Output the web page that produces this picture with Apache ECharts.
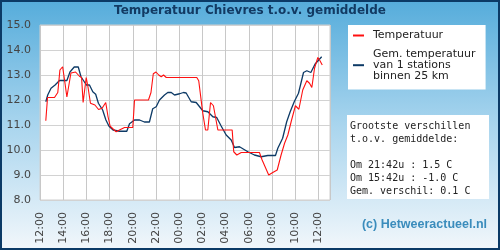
<!DOCTYPE html>
<html>
<head>
<meta charset="utf-8">
<script src="https://cdn.jsdelivr.net/npm/echarts@6/dist/echarts.min.js"></script>
<style>
  html, body { margin: 0; padding: 0; }
  #wrap {
    position: relative;
    width: 500px;
    height: 250px;
    background: linear-gradient(to bottom, #55acdb 0%, #a9d5ee 50%, #f2f7fb 100%);
  }
  #chart { position: absolute; left: 0; top: 0; width: 500px; height: 250px; }
  #frame {
    position: absolute; left: 0; top: 0; width: 500px; height: 250px;
    box-sizing: border-box; border: 2px solid #0b3a66; pointer-events: none;
  }
</style>
</head>
<body>
<div id="wrap">
  <div id="chart"></div>
  <div id="frame"></div>
</div>
<script>
// Temperatuur (rood)
const tempTimes = [
  "12:30", "12:39", "13:15", "13:32", "13:43", "13:57", "14:07", "14:19", "14:28", "14:40",
  "15:04", "15:24", "15:35", "15:43", "15:59", "16:08", "16:21", "16:44", "17:03", "17:21",
  "17:31", "17:40", "17:52", "18:03", "18:17", "18:34", "18:51", "19:00", "19:17", "19:26",
  "19:34", "20:00", "20:09", "21:21", "21:34", "21:46", "22:00", "22:14", "22:27", "22:39",
  "22:53", "01:31", "01:41", "02:02", "02:16", "02:28", "02:42", "02:57", "03:20", "04:34",
  "04:42", "04:58", "05:21", "06:55", "07:09", "07:43", "08:04", "08:27", "08:47", "09:05",
  "09:22", "09:39", "10:01", "10:19", "10:39", "11:00", "11:14", "11:26", "11:40", "11:57",
  "12:06", "12:20"
];
const tempValues = [
  11.17, 12.1, 12.1, 12.3, 13.2, 13.33, 12.8, 12.12, 12.12, 13.08,
  13.12, 12.95, 12.9, 11.9, 12.9, 12.53, 11.87, 11.8, 11.62, 11.67,
  11.6, 11.9, 11.33, 10.95, 10.85, 10.73, 10.8, 10.73, 10.9, 10.82,
  10.9, 10.9, 12.0, 12.0, 12.3, 13.05, 13.12, 13.0, 12.93, 13.0,
  12.9, 12.9, 12.77, 11.47, 10.8, 10.8, 11.9, 11.77, 10.8, 10.8,
  9.93, 9.8, 9.9, 9.9, 9.6, 9.0, 9.1, 9.2, 9.8, 10.27,
  10.6, 11.13, 11.77, 11.63, 12.4, 12.77, 12.67, 12.5, 13.27, 13.7,
  13.6, 13.4
];

// Gem. temperatuur van 1 stations binnen 25 km (blauw)
const avgTimes = [
  "12:30", "12:40", "12:57", "13:18", "13:41", "14:19", "14:35", "14:57", "15:18", "15:32",
  "15:40", "16:00", "16:16", "16:33", "16:48", "17:02", "17:24", "17:41", "17:57", "18:18",
  "18:51", "19:29", "19:43", "20:09", "20:35", "21:00", "21:26", "21:43", "22:01", "22:18",
  "22:44", "23:01", "23:19", "23:36", "00:02", "00:22", "00:36", "01:02", "01:28", "02:02",
  "02:28", "02:54", "03:14", "03:37", "04:03", "04:29", "04:46", "05:12", "05:21", "05:55",
  "06:29", "07:04", "07:38", "08:18", "08:30", "08:55", "09:16", "09:34", "09:55", "10:17",
  "10:26", "10:43", "11:00", "11:21", "11:43", "12:17"
];
const avgValues = [
  11.93, 12.2, 12.47, 12.6, 12.78, 12.78, 13.12, 13.32, 13.32, 12.93,
  12.9, 12.6, 12.6, 12.33, 12.23, 11.87, 11.6, 11.2, 10.95, 10.8,
  10.75, 10.75, 11.05, 11.2, 11.2, 11.12, 11.12, 11.65, 11.73, 12.0,
  12.2, 12.3, 12.3, 12.2, 12.25, 12.3, 12.28, 11.93, 11.9, 11.57,
  11.53, 11.33, 11.3, 10.96, 10.6, 10.4, 10.1, 10.13, 10.2, 9.93,
  9.8, 9.73, 9.78, 9.78, 10.07, 10.47, 11.13, 11.53, 11.93, 12.27,
  12.33, 13.1, 13.17, 13.1, 13.44, 13.73
];

const legendNames = ["Temperatuur", "Gem. temperatuur\nvan 1 stations\nbinnen 25 km"];
const infoLines = [
  "Grootste verschillen",
  "t.o.v. gemiddelde:",
  "",
  "Om 21:42u : 1.5 C",
  "Om 15:42u : -1.0 C",
  "Gem. verschil: 0.1 C"
];

// minuten sinds 12:00, met overgang naar de volgende dag
function toPoints(times, values) {
  let prev = -1;
  return times.map((t, i) => {
    const [h, m] = t.split(":").map(Number);
    let mins = (h - 12) * 60 + m;
    while (mins < prev) mins += 1440;
    prev = mins;
    return [mins, values[i]];
  });
}

const chart = echarts.init(document.getElementById("chart"));

const labelColor = "#444";
const gridColor = "#d2d2d2";

chart.setOption({
  animation: false,
  title: {
    text: "Temperatuur Chievres t.o.v. gemiddelde",
    left: "center",
    top: 3,
    padding: 0,
    textStyle: {
      fontFamily: "DejaVu Sans",
      fontSize: 12,
      fontWeight: "bold",
      color: "#123a63",
      lineHeight: 16,
    },
  },
  legend: {
    orient: "vertical",
    left: 348,
    top: 25,
    padding: [5, 10, 8, 5],
    itemGap: 8,
    itemWidth: 11,
    itemHeight: 2,
    icon: "rect",
    backgroundColor: "#fff",
    data: legendNames,
    textStyle: {
      fontFamily: "DejaVu Sans",
      fontSize: 11,
      color: "#222",
      lineHeight: 10.7,
      padding: [0, 0, 0, 4],
    },
  },
  grid: {
    left: 40,
    right: 170,
    top: 25,
    bottom: 50,
    show: true,
    backgroundColor: "#fff",
    borderColor: "#cfcfcf",
    borderWidth: 1,
  },
  xAxis: {
    type: "value",
    min: 0,
    max: 1500,
    interval: 120,
    axisLine: { show: false },
    axisTick: { show: false },
    splitLine: { show: true, lineStyle: { color: "#c8c8c8", width: 1 } },
    axisLabel: {
      rotate: 90,
      margin: 12,
      showMaxLabel: false,
      fontFamily: "DejaVu Sans",
      fontSize: 11,
      color: labelColor,
      formatter: (v) => {
        if (v % 120 !== 0) return "";
        const h = (12 + v / 60) % 24;
        return String(h).padStart(2, "0") + ":00";
      },
    },
  },
  yAxis: {
    type: "value",
    min: 8,
    max: 15,
    interval: 1,
    axisLine: { show: false },
    axisTick: { show: false },
    splitLine: { show: true, lineStyle: { color: gridColor, width: 1 } },
    axisLabel: {
      margin: 9,
      fontFamily: "DejaVu Sans",
      fontSize: 11,
      color: labelColor,
      formatter: (v) => v.toFixed(1),
    },
  },
  series: [
    {
      name: legendNames[0],
      type: "line",
      data: toPoints(tempTimes, tempValues),
      showSymbol: false,
      z: 3,
      itemStyle: { color: "#ff1010" },
      lineStyle: { color: "#ff1010", width: 1.1 },
    },
    {
      name: legendNames[1],
      type: "line",
      data: toPoints(avgTimes, avgValues),
      showSymbol: false,
      z: 2,
      itemStyle: { color: "#0d3a66" },
      lineStyle: { color: "#0d3a66", width: 1.3 },
    },
  ],
  graphic: [
    {
      type: "group",
      left: 347,
      top: 115,
      children: [
        {
          type: "rect",
          shape: { x: 0, y: 0, width: 142, height: 84 },
          style: { fill: "#fff" },
        },
        {
          type: "text",
          x: 3,
          y: 4.5,
          style: {
            text: infoLines.join("\n"),
            fontFamily: "DejaVu Sans Mono",
            fontSize: 10,
            lineHeight: 13,
            fill: "#222",
          },
        },
      ],
    },
    {
      type: "text",
      right: 13,
      top: 218,
      style: {
        text: "(c) Hetweeractueel.nl",
        fontFamily: "Liberation Sans",
        fontSize: 12.5,
        fontWeight: "bold",
        fill: "#3a8cbc",
      },
    },
  ],
});
</script>
</body>
</html>
